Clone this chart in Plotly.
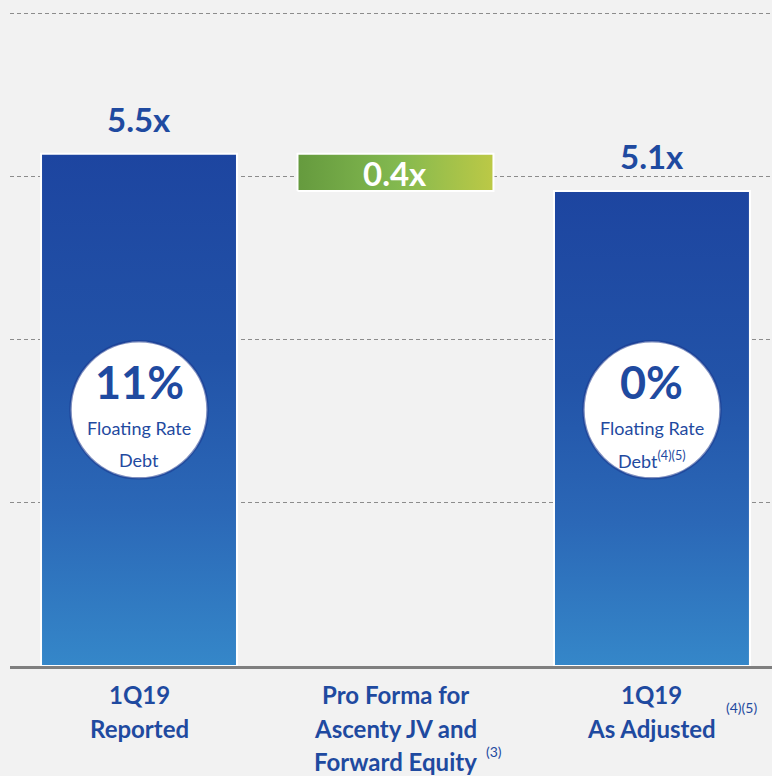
import plotly.graph_objects as go

# ---- data ----
categories = ["1Q19 Reported", "Pro Forma for Ascenty JV and Forward Equity", "1Q19 As Adjusted"]
label_lines = [["1Q19", "Reported"], ["Pro Forma for", "Ascenty JV and", "Forward Equity"], ["1Q19", "As Adjusted"]]
label_notes = [None, "(3)", "(4)(5)"]
leverage = [5.5, 0.4, 5.1]          # net debt / EBITDA multiples
value_text = ["5.5x", "0.4x", "5.1x"]
floating_pct = ["11%", None, "0%"]
floating_sub = ["Debt", None, "Debt<sup>(4)(5)</sup>"]
grid_vals = [1.75, 3.5, 5.25, 7.0]

BLUE_TXT = "#1f4aa0"
FONT = "Lato"
half_w = 0.382
circle_y = 2.75

fig = go.Figure()

# bar geometry: waterfall (middle bar is a decrease from first total)
bases = [0, leverage[0] - leverage[1], 0]
tops = [leverage[0], leverage[0], leverage[2]]

for i in range(3):
    b, t = bases[i], tops[i]
    xs = [i - half_w, i + half_w, i + half_w, i - half_w, i - half_w]
    ys = [b, b, t, t, b]
    if i == 1:
        grad = dict(type="horizontal", start=i - half_w, stop=i + half_w,
                    colorscale=[[0, "#659a3e"], [0.5, "#82b84f"], [1, "#bcc946"]])
    else:
        grad = dict(type="vertical", start=b, stop=t,
                    colorscale=[[0, "#3587c9"], [0.3, "#2b68b7"], [0.6, "#2253a8"], [1, "#1d45a0"]])
    fig.add_trace(go.Scatter(x=xs, y=ys, mode="lines", fill="toself", fillgradient=grad,
                             line=dict(color="white", width=2), hoverinfo="skip", showlegend=False))

# circles
cx = [i for i in range(3) if floating_pct[i] is not None]
fig.add_trace(go.Scatter(x=cx, y=[circle_y] * len(cx), mode="markers",
                         marker=dict(size=137, color="white", line=dict(color="rgba(25,55,140,0.55)", width=2.5)),
                         hoverinfo="skip", showlegend=False))

ann = []
def add(**kw):
    kw.setdefault("xanchor", "center")
    kw.setdefault("yanchor", "middle")
    kw.setdefault("showarrow", False)
    ann.append(kw)

# value labels
for i in range(3):
    if i == 1:
        add(x=i, y=(bases[i] + tops[i]) / 2, xref="x", yref="y", text="<b>%s</b>" % value_text[i],
            font=dict(family=FONT, size=33, color="white"), yshift=-1)
    else:
        add(x=i, y=tops[i], xref="x", yref="y", text="<b>%s</b>" % value_text[i],
            font=dict(family=FONT, size=33, color=BLUE_TXT), yshift=35)

# circle texts
for i in cx:
    add(x=i, y=circle_y, xref="x", yref="y", text="<b>%s</b>" % floating_pct[i],
        font=dict(family=FONT, size=45, color=BLUE_TXT), yshift=28)
    add(x=i, y=circle_y, xref="x", yref="y", text="Floating Rate",
        font=dict(family=FONT, size=18, color=BLUE_TXT), yshift=-18)
    add(x=i, y=circle_y, xref="x", yref="y", text=floating_sub[i],
        font=dict(family=FONT, size=18, color=BLUE_TXT), yshift=-50)

# category labels
line_shift = [-28, -62, -95]
for i, lines in enumerate(label_lines):
    for j, ln in enumerate(lines):
        add(x=i, y=0, xref="x", yref="paper", text="<b>%s</b>" % ln,
            font=dict(family=FONT, size=24, color=BLUE_TXT), yshift=line_shift[j])
# footnote markers
add(x=1, y=0, xref="x", yref="paper", text=label_notes[1],
    font=dict(family=FONT, size=14, color=BLUE_TXT), xshift=99, yshift=-85)
add(x=2, y=0, xref="x", yref="paper", text=label_notes[2],
    font=dict(family=FONT, size=14, color=BLUE_TXT), xshift=90, yshift=-41)

fig.update_layout(
    width=772, height=776,
    margin=dict(l=10, r=0, t=0, b=110),
    paper_bgcolor="#f2f2f2", plot_bgcolor="#f2f2f2",
    annotations=ann,
    xaxis=dict(range=[-0.503, 2.468], tickvals=[0, 1, 2], showticklabels=False, showgrid=False,
               zeroline=False, showline=True, linecolor="#7f7f7f", linewidth=3, ticks=""),
    yaxis=dict(range=[0, 7.15], tickvals=grid_vals, showticklabels=False, showgrid=True,
               gridcolor="#8c8c8c", gridwidth=1.3, griddash="4px,3px", zeroline=False),
)

fig.write_html("out.html", config={"displayModeBar": False},
               post_script="document.body.style.margin='0';document.body.style.overflow='hidden';")
